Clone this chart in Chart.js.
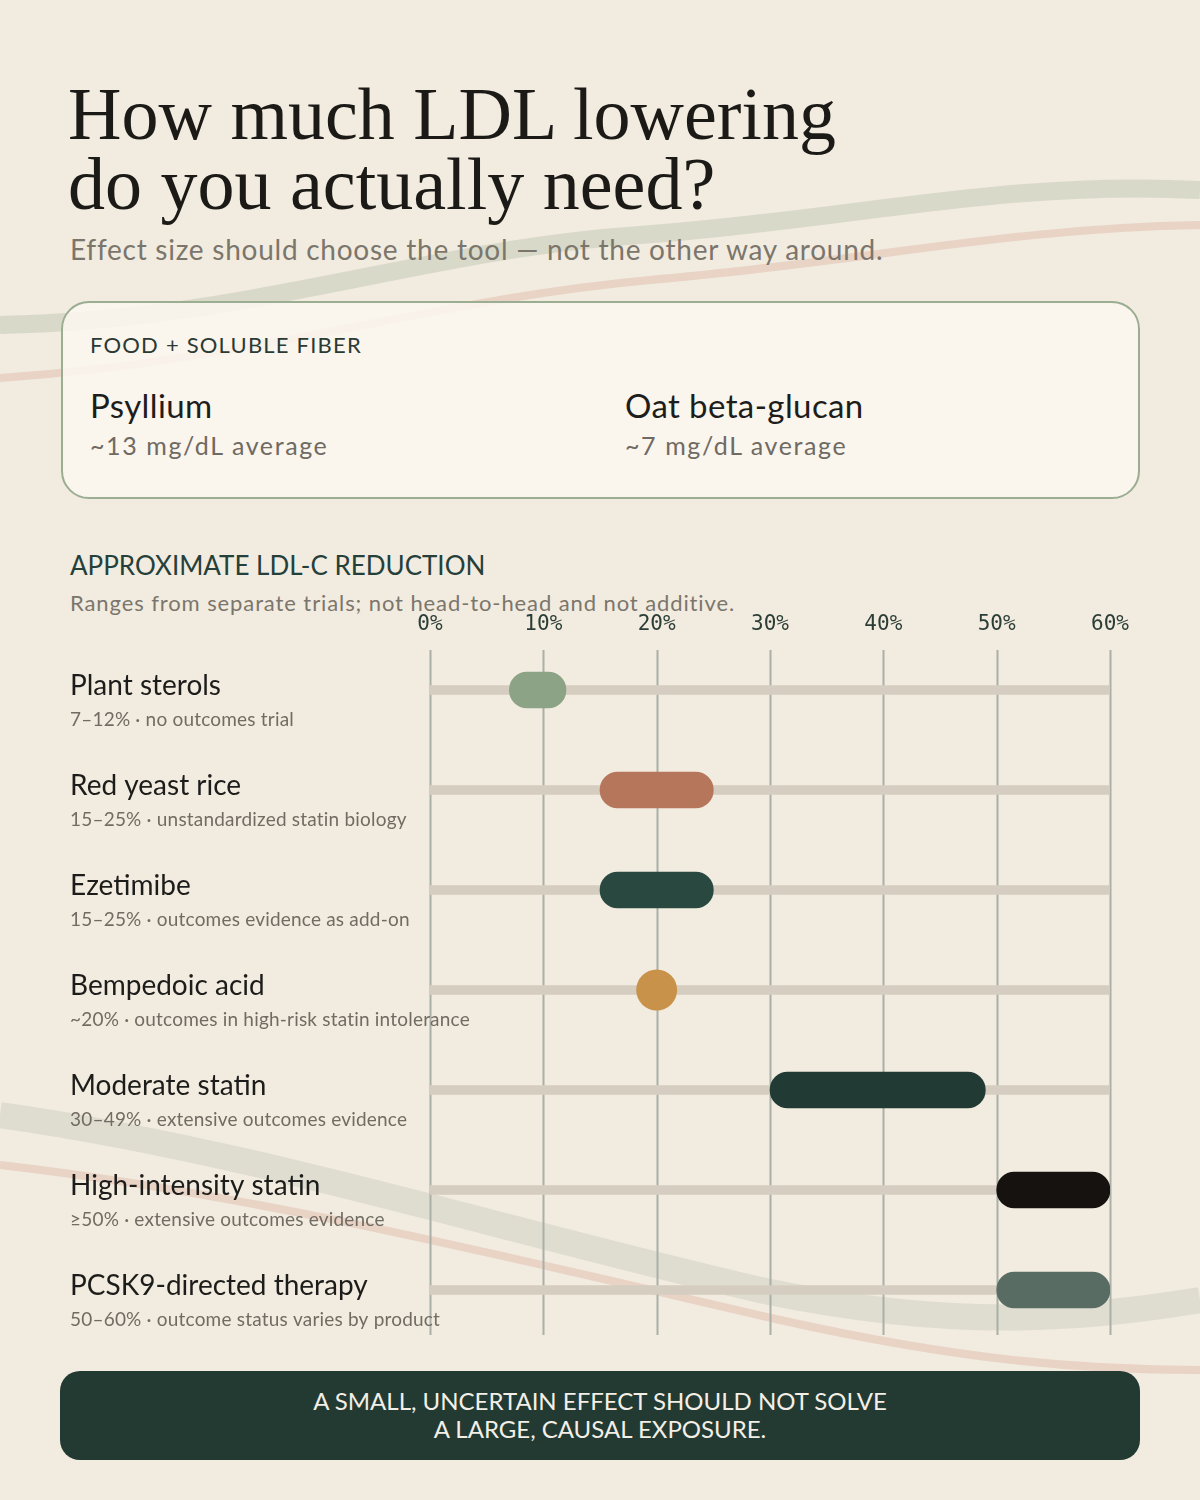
<!DOCTYPE html>
<html><head><meta charset="utf-8">
<script src="https://cdn.jsdelivr.net/npm/chart.js@4.4.1/dist/chart.umd.min.js"></script>
<style>
html,body{margin:0;padding:0;}
body{width:1200px;height:1500px;position:relative;overflow:hidden;background:#f2ebdf;font-family:Lato,"Open Sans",sans-serif;}
#bg{position:absolute;left:0;top:0;width:1200px;height:1500px;}
.t{position:absolute;white-space:nowrap;line-height:1;}
#title{left:68px;top:79px;font-family:"Liberation Serif",serif;font-size:74px;line-height:70px;color:#1b1a17;}
#sub{left:70px;top:235px;font-size:28px;letter-spacing:0.75px;color:#7b766c;}
#card{position:absolute;left:61px;top:301px;width:1075px;height:194px;border:2px solid #9cae92;border-radius:28px;background:rgba(250,246,239,0.88);}
#cardHead{left:90px;top:334px;font-size:22px;letter-spacing:1.2px;color:#2b3a33;}
.cname{top:389px;font-size:33px;letter-spacing:0.4px;color:#1d1d1b;}
.cval{top:433px;font-size:25px;letter-spacing:1.6px;color:#6f6a62;}
#secHead{left:70px;top:552px;font-size:26px;color:#25403a;}
#secSub{left:70px;top:592px;font-size:22px;letter-spacing:0.9px;color:#7b766c;}
#banner{position:absolute;left:60px;top:1371px;width:1080px;height:89px;border-radius:20px;background:#233a33;color:#f4efe6;text-align:center;font-size:24px;line-height:28px;box-sizing:border-box;padding-top:16px;}
#wrap{position:absolute;left:0;top:0;width:1200px;height:1500px;}
</style>
</head>
<body>
<svg id="bg" viewBox="0 0 1200 1500" xmlns="http://www.w3.org/2000/svg">
  <path d="M0,325 C250,320 420,250 640,235 C850,220 1000,180 1200,190" fill="none" stroke="#9fae98" stroke-width="18" opacity="0.3"/>
  <path d="M0,378 C260,360 430,300 650,280 C860,262 1010,228 1200,225" fill="none" stroke="#d29a8a" stroke-width="8" opacity="0.3"/>
  <path d="M0,1115 C250,1150 500,1230 760,1290 C950,1330 1080,1320 1200,1300" fill="none" stroke="#a9b4a2" stroke-width="26" opacity="0.25"/>
  <path d="M0,1165 C260,1195 520,1260 780,1320 C960,1360 1080,1370 1200,1370" fill="none" stroke="#d29a8a" stroke-width="8" opacity="0.3"/>
</svg>

<div class="t" id="title">How much LDL lowering<br>do you actually need?</div>
<div class="t" id="sub">Effect size should choose the tool — not the other way around.</div>

<div id="card"></div>
<div class="t" id="cardHead">FOOD + SOLUBLE FIBER</div>
<div class="t cname" style="left:90px">Psyllium</div>
<div class="t cval" style="left:90px">~13 mg/dL average</div>
<div class="t cname" style="left:625px">Oat beta-glucan</div>
<div class="t cval" style="left:625px">~7 mg/dL average</div>

<div class="t" id="secHead">APPROXIMATE LDL-C REDUCTION</div>
<div class="t" id="secSub">Ranges from separate trials; not head-to-head and not additive.</div>

<div id="banner">A SMALL, UNCERTAIN EFFECT SHOULD NOT SOLVE<br>A LARGE, CAUSAL EXPOSURE.</div>

<div id="wrap"><canvas id="c"></canvas></div>

<script>
const categories = ['Plant sterols', 'Red yeast rice', 'Ezetimibe', 'Bempedoic acid', 'Moderate statin', 'High-intensity statin', 'PCSK9-directed therapy'];
const notes = ['7–12% · no outcomes trial', '15–25% · unstandardized statin biology', '15–25% · outcomes evidence as add-on', '~20% · outcomes in high-risk statin intolerance', '30–49% · extensive outcomes evidence', '≥50% · extensive outcomes evidence', '50–60% · outcome status varies by product'];
const rangeLow  = [7, 15, 15, null, 30, 50, 50];
const rangeHigh = [12, 25, 25, null, 49, 60, 60];
const pointValue = [null, null, null, 20, null, null, null];
const barColors = ['#8da385', '#b5765b', '#284840', '#c8924a', '#213a33', '#16120f', '#586c64'];
const tickValues = [0, 10, 20, 30, 40, 50, 60];
const trackRange = [0, 60];

const gridPlugin = {
  id: 'gridLines',
  beforeDatasetsDraw(chart) {
    const {ctx, chartArea, scales} = chart;
    ctx.save();
    ctx.strokeStyle = '#aab0a8';
    ctx.lineWidth = 2;
    tickValues.forEach(v => {
      const x = Math.round(scales.x.getPixelForValue(v)) + 0.5;
      ctx.beginPath();
      ctx.moveTo(x, chartArea.top + 10);
      ctx.lineTo(x, chartArea.bottom - 5);
      ctx.stroke();
    });
    ctx.restore();
  }
};
const notesPlugin = {
  id: 'notes',
  afterDatasetsDraw(chart) {
    const {ctx, scales} = chart;
    ctx.save();
    ctx.font = '19px Lato, "Open Sans", sans-serif';
    if ('letterSpacing' in ctx) ctx.letterSpacing = '0.2px';
    ctx.fillStyle = '#716c63';
    ctx.textBaseline = 'middle';
    ctx.textAlign = 'left';
    notes.forEach((n, i) => {
      ctx.fillText(n, scales.y.left, scales.y.getPixelForValue(i) + 30);
    });
    ctx.restore();
  }
};

new Chart(document.getElementById('c'), {
  type: 'bar',
  data: {
    labels: categories,
    datasets: [
      {
        type: 'line',
        data: pointValue.map((v, i) => v == null ? null : {x: v, y: categories[i]}).filter(d => d),
        showLine: false,
        pointRadius: 20.5,
        pointHoverRadius: 20.5,
        pointBackgroundColor: barColors.filter((c, i) => pointValue[i] != null),
        pointBorderWidth: 0,
        order: 1
      },
      {
        data: rangeLow.map((l, i) => l == null ? null : [l, rangeHigh[i]]),
        backgroundColor: barColors,
        barThickness: 36,
        borderRadius: 18,
        borderSkipped: false,
        grouped: false,
        order: 2
      },
      {
        data: categories.map(() => trackRange),
        backgroundColor: '#d6cdc1',
        barThickness: 9,
        grouped: false,
        order: 3
      }
    ]
  },
  options: {
    indexAxis: 'y',
    responsive: true,
    maintainAspectRatio: false,
    animation: false,
    events: [],
    layout: {padding: {top: 600, bottom: 160, left: 70, right: 90}},
    plugins: {legend: {display: false}, tooltip: {enabled: false}},
    scales: {
      x: {
        type: 'linear', position: 'top', min: 0, max: 60,
        afterBuildTicks: s => { s.ticks = tickValues.map(v => ({value: v})); },
        afterFit: s => { s.height = 40; },
        grid: {display: false},
        border: {display: false},
        ticks: {
          padding: -5,
          color: '#2a3d36',
          font: {family: '"DejaVu Sans Mono", monospace', size: 21},
          callback: v => v + '%'
        }
      },
      y: {
        type: 'category', offset: true,
        afterFit: s => { s.width = 360; },
        grid: {display: false},
        border: {display: false},
        ticks: {
          crossAlign: 'far',
          padding: 0,
          labelOffset: -4,
          color: '#1c1c1a',
          font: {family: 'Lato, "Open Sans", sans-serif', size: 28}
        }
      }
    }
  },
  plugins: [gridPlugin, notesPlugin]
});
</script>
</body></html>
